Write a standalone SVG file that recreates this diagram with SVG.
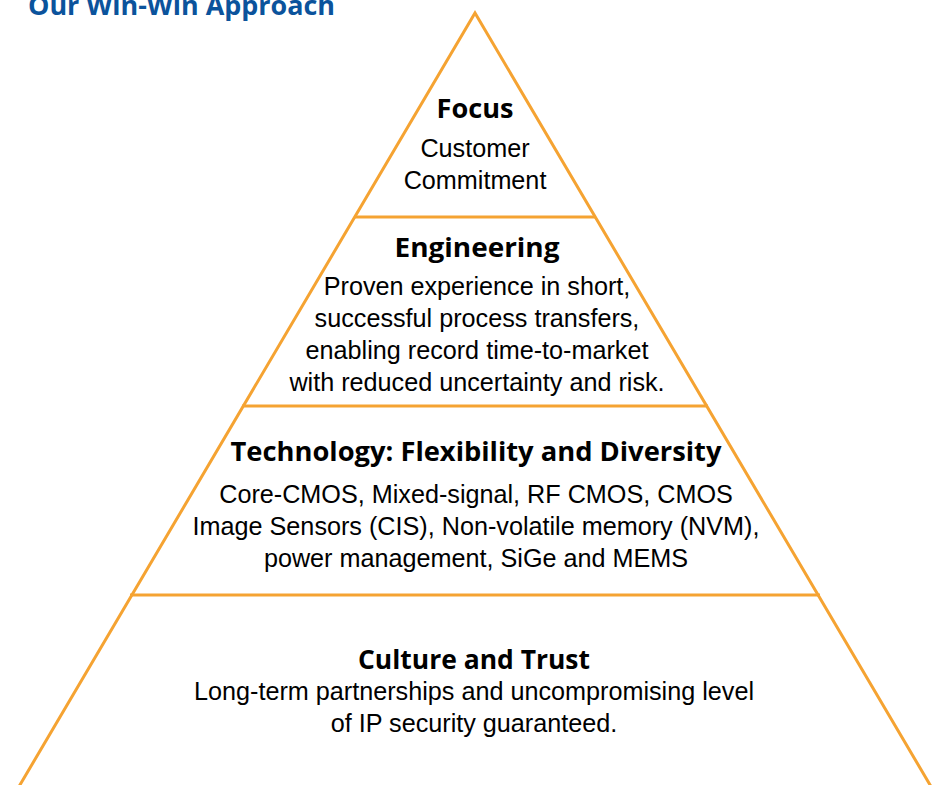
<svg xmlns="http://www.w3.org/2000/svg" width="943" height="785" viewBox="0 0 943 785">
<style>
.edge{stroke:#F5A332;stroke-width:3;fill:none;stroke-linejoin:miter}
.title{font-family:"Open Sans","Liberation Sans",sans-serif;font-weight:bold;font-size:26px;fill:#0B539C}
.head{font-family:"Open Sans","Liberation Sans",sans-serif;font-weight:bold;font-size:27px;fill:#000;text-anchor:middle}
.body{font-family:"Liberation Sans",Arial,sans-serif;font-size:25.2px;fill:#000;text-anchor:middle}
</style>
<rect width="943" height="785" fill="#fff"/>
<text class="title" x="28" y="15" textLength="307" lengthAdjust="spacingAndGlyphs">Our Win-Win Approach</text>
<g id="connectors">
<path class="edge" d="M14,795 L475,13 L936,795"/>
<line class="edge" x1="354" y1="217" x2="596" y2="217"/>
<line class="edge" x1="242" y1="406" x2="708" y2="406"/>
<line class="edge" x1="130" y1="595" x2="820" y2="595"/>
</g>
<g id="focus">
<text class="head" x="475" y="118" textLength="77" lengthAdjust="spacingAndGlyphs">Focus</text>
<text class="body" x="475" y="157">Customer</text>
<text class="body" x="475" y="189">Commitment</text>
</g>
<g id="engineering">
<text class="head" x="477" y="257" textLength="165" lengthAdjust="spacingAndGlyphs">Engineering</text>
<text class="body" x="477" y="295">Proven experience in short,</text>
<text class="body" x="477" y="327">successful process transfers,</text>
<text class="body" x="477" y="359">enabling record time-to-market</text>
<text class="body" x="477" y="391">with reduced uncertainty and risk.</text>
</g>
<g id="technology">
<text class="head" x="476" y="461" textLength="491" lengthAdjust="spacingAndGlyphs">Technology: Flexibility and Diversity</text>
<text class="body" x="476" y="503">Core-CMOS, Mixed-signal, RF CMOS, CMOS</text>
<text class="body" x="476" y="535">Image Sensors (CIS), Non-volatile memory (NVM),</text>
<text class="body" x="476" y="567">power management, SiGe and MEMS</text>
</g>
<g id="culture">
<text class="head" x="474" y="669" textLength="232" lengthAdjust="spacingAndGlyphs">Culture and Trust</text>
<text class="body" x="474" y="700">Long-term partnerships and uncompromising level</text>
<text class="body" x="474" y="732">of IP security guaranteed.</text>
</g>
</svg>
